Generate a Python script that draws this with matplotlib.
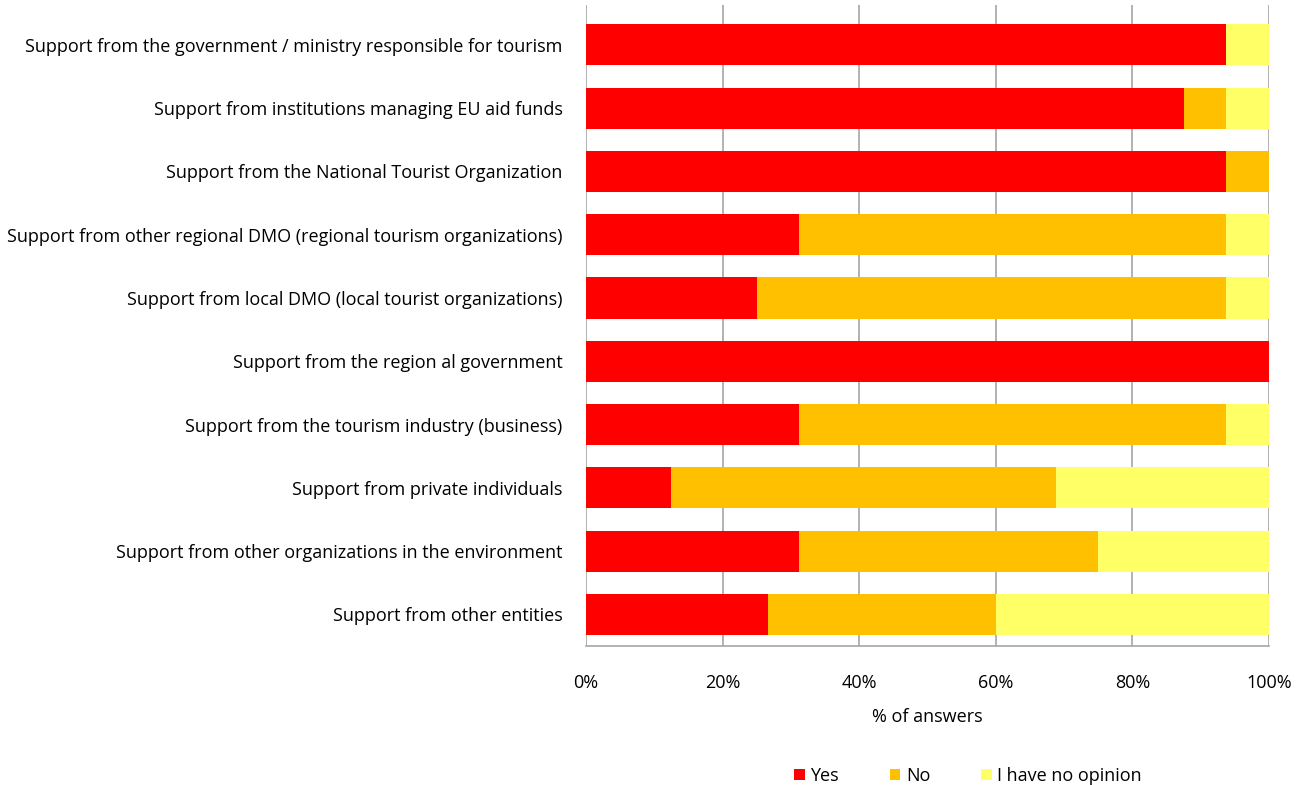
import matplotlib
matplotlib.use("Agg")
import matplotlib.pyplot as plt
import numpy as np

plt.rcParams['font.family'] = ['Open Sans', 'DejaVu Sans']

categories = [
    "Support from the government / ministry responsible for tourism",
    "Support from institutions managing EU aid funds",
    "Support from the National Tourist Organization",
    "Support from other regional DMO (regional tourism organizations)",
    "Support from local DMO (local tourist organizations)",
    "Support from the region al government",
    "Support from the tourism industry (business)",
    "Support from private individuals",
    "Support from other organizations in the environment",
    "Support from other entities",
]
yes = [93.75, 87.5, 93.75, 31.25, 25.0, 100.0, 31.25, 12.5, 31.25, 26.67]
no = [0.0, 6.25, 6.25, 62.5, 68.75, 0.0, 62.5, 56.25, 43.75, 33.33]
no_opinion = [6.25, 6.25, 0.0, 6.25, 6.25, 0.0, 6.25, 31.25, 25.0, 40.0]
series_names = ["Yes", "No", "I have no opinion"]
colors = ["#FF0000", "#FFC000", "#FFFF66"]

fig = plt.figure(figsize=(13.04, 7.85), dpi=100)
ax = fig.add_axes([0.4494, 0.1771, 0.5238, 0.8165])

y = np.arange(len(categories))[::-1]
left = np.zeros(len(categories))
for vals, name, c in zip([yes, no, no_opinion], series_names, colors):
    ax.barh(y, vals, left=left, height=0.65, color=c, label=name, zorder=2)
    left = left + np.array(vals)

ax.set_xlim(0, 100)
ax.set_ylim(-0.5, 9.63)
ax.set_xticks(np.arange(0, 101, 20))
ax.set_xticklabels([f"{v}%" for v in range(0, 101, 20)], fontsize=13)
ax.set_yticks(y)
ax.set_yticklabels(categories, fontsize=13)
ax.tick_params(axis='both', length=0)
ax.tick_params(axis='y', pad=17)
ax.tick_params(axis='x', pad=20)
ax.xaxis.grid(True, color='#A6A6A6', linewidth=1.2, zorder=0)
ax.set_axisbelow(True)
for s in ['top', 'left', 'right']:
    ax.spines[s].set_visible(False)
ax.spines['bottom'].set_color('#A6A6A6')
ax.spines['bottom'].set_linewidth(1.2)
ax.set_xlabel("% of answers", fontsize=13, labelpad=12)

ax.legend(loc='center', bbox_to_anchor=(0.559, -0.203), ncol=3, frameon=False,
          fontsize=13, handlelength=0.6, handleheight=0.6, handletextpad=0.3,
          columnspacing=2.8)

fig.savefig("out.png", dpi=100)
